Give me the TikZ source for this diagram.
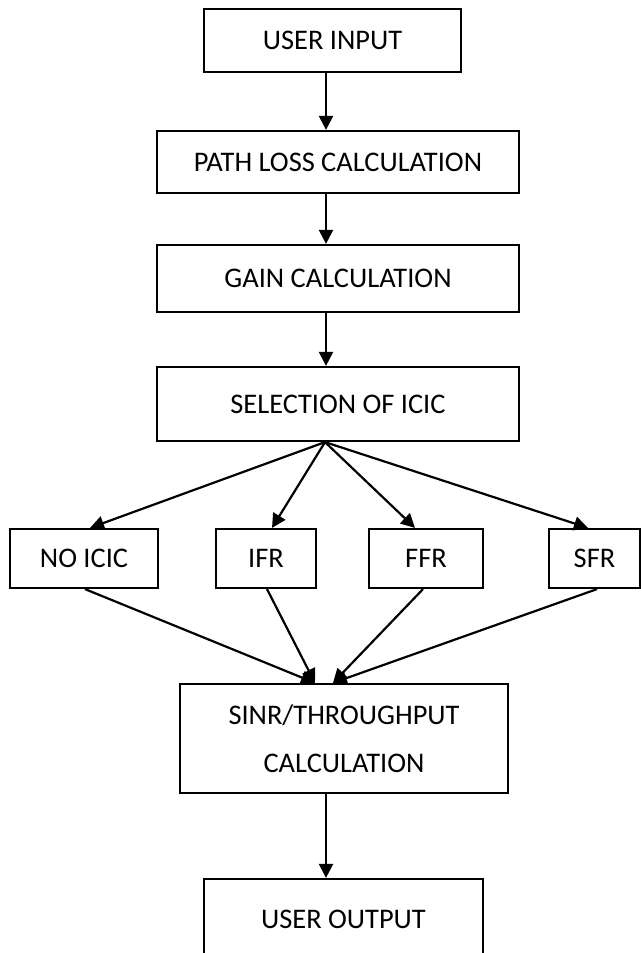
\documentclass[tikz,border=0pt]{standalone}
\usepackage{fontspec}
\setmainfont{Carlito}
\usetikzlibrary{arrows.meta,calc}
\begin{document}
\begin{tikzpicture}[x=0.5pt,y=-0.5pt,
  box/.style={draw, line width=1.1pt, inner sep=0pt, font=\fontsize{14.2}{24}\selectfont, align=center},
  arr/.style={line width=1.1pt, -{Triangle[length=7pt,width=7pt]}},
  ln/.style={line width=1.1pt}]
\useasboundingbox (0,0) rectangle (641,953);
\clip (0,0) rectangle (641,953);
\fill[white] (0,0) rectangle (641,953);
\coordinate (ax) at (326,0);

\node[box, minimum width=128.5pt, minimum height=31.5pt] (ui) at (332.5,40.5) {USER INPUT};
\node[box, minimum width=181pt, minimum height=31pt] (pl) at (338,162) {PATH LOSS CALCULATION};
\node[box, minimum width=181pt, minimum height=33.5pt] (gc) at (338,278.5) {GAIN CALCULATION};
\node[box, minimum width=181pt, minimum height=37pt] (sel) at (338,404) {SELECTION OF ICIC};
\node[box, minimum width=74pt, minimum height=29.5pt] (no) at (84,558.5) {NO ICIC};
\node[box, minimum width=50pt, minimum height=29.5pt] (ifr) at (266,558.5) {IFR};
\node[box, minimum width=57pt, minimum height=29.5pt] (ffr) at (426,558.5) {FFR};
\node[box, minimum width=45.5pt, minimum height=29.5pt] (sfr) at (594.5,558.5) {SFR};
\node[box, minimum width=164pt, minimum height=54.5pt] (sinr) at (344,738.5) {SINR/THROUGHPUT\\CALCULATION};
\node[box, minimum width=139.5pt, minimum height=40.5pt] (uo) at (343.5,919.5) {USER OUTPUT};

\draw[arr] (ui.south -| ax) -- (pl.north -| ax);
\draw[arr] (pl.south -| ax) -- (gc.north -| ax);
\draw[arr] (gc.south -| ax) -- (sel.north -| ax);

\coordinate (apex) at ($(sel.south -| ax)+(-1,0)$);
\draw[arr] (apex) -- ($(no.north)+(6,0)$);
\draw[arr] (apex) -- ($(ifr.north)+(6,0)$);
\draw[arr] (apex) -- ($(ffr.north)+(-11,0)$);
\draw[arr] (apex) -- ($(sfr.north)+(-6.5,0)$);

\draw[arr] ($(no.south)+(1,0)$) -- ($(sinr.north)+(-29,0)$);
\draw[arr] ($(ifr.south)+(1,0)$) -- ($(sinr.north)+(-29,0)$);
\draw[arr] ($(ffr.south)+(-3,0)$) -- ($(sinr.north)+(-11,0)$);
\draw[arr] ($(sfr.south)+(2.5,0)$) -- ($(sinr.north)+(-11,0)$);

\draw[arr] (sinr.south -| ax) -- (uo.north -| ax);
\end{tikzpicture}
\end{document}
